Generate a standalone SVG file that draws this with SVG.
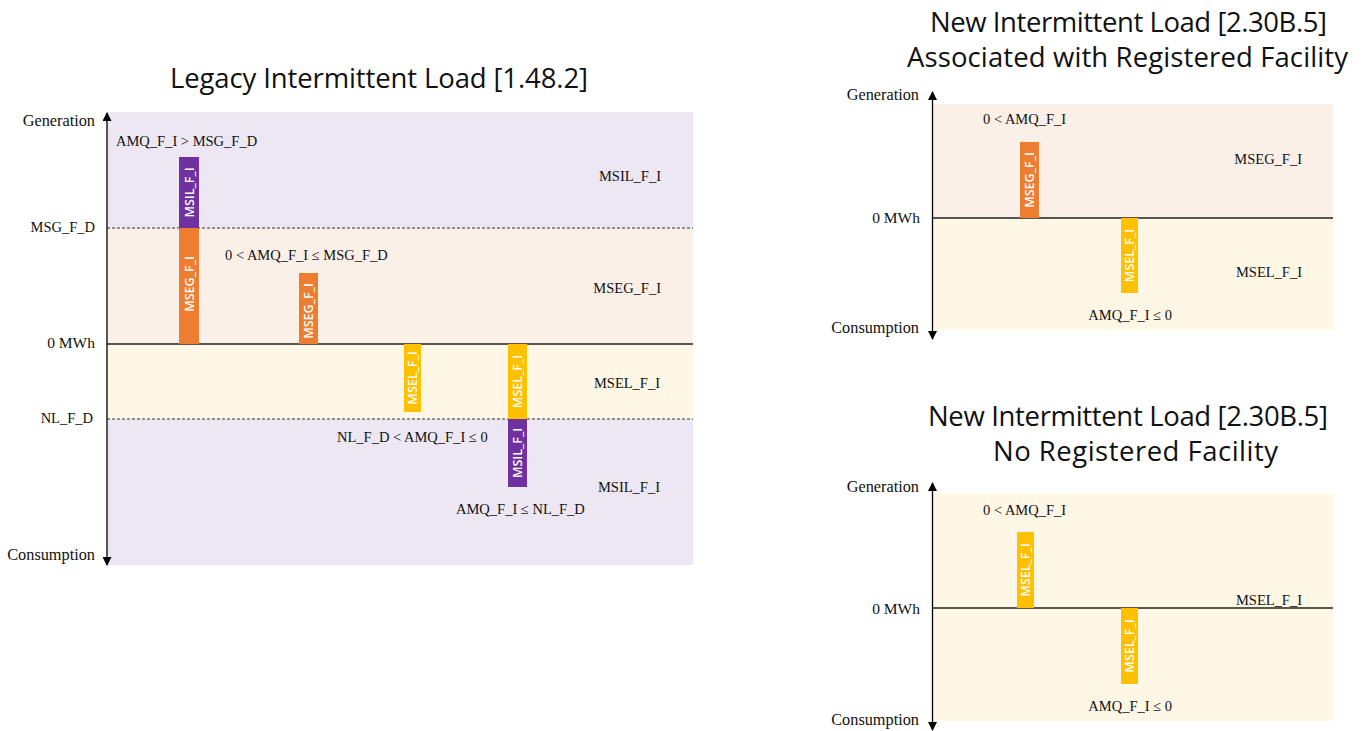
<svg xmlns="http://www.w3.org/2000/svg" width="1363" height="731" viewBox="0 0 1363 731">
<style>
.title{font-family:"Open Sans","Liberation Sans",sans-serif;font-size:27.5px;fill:#111;}
.lbl{font-family:"Liberation Serif","DejaVu Serif",serif;font-size:14.5px;fill:#111;}
.big{font-size:16.3px;}
.end{text-anchor:end;}
.bar{font-family:"Open Sans","Liberation Sans",sans-serif;font-size:12.5px;font-weight:600;fill:#fff;text-anchor:middle;dominant-baseline:central;}
.pur{fill:#EDE7F3;}
.pea{fill:#FBF0E8;}
.yel{fill:#FFF7E6;}
.zero{stroke:#222;stroke-width:1.3;}
.dash{stroke:#333;stroke-width:1;stroke-dasharray:3,2;}
.axis{stroke:#000;stroke-width:1.3;fill:none;marker-start:url(#arrS);marker-end:url(#arrE);}
</style>
<defs>
<marker id="arrE" viewBox="0 0 10 10" refX="9" refY="5" markerWidth="10" markerHeight="9" markerUnits="userSpaceOnUse" orient="auto"><path d="M0,0 L10,5 L0,10 z" fill="#000"/></marker>
<marker id="arrS" viewBox="0 0 10 10" refX="1" refY="5" markerWidth="10" markerHeight="9" markerUnits="userSpaceOnUse" orient="auto"><path d="M10,0 L0,5 L10,10 z" fill="#000"/></marker>
</defs>
<rect width="1363" height="731" fill="#fff"/>

<!-- Legacy panel -->
<g id="legacy-bands">
<rect class="pur" x="107" y="112" width="586" height="116"/>
<rect class="pea" x="107" y="228" width="586" height="116"/>
<rect class="yel" x="107" y="344" width="586" height="75"/>
<rect class="pur" x="107" y="419" width="586" height="146"/>
<line class="dash" x1="107" y1="228" x2="693" y2="228"/>
<line class="zero" x1="107" y1="344" x2="693" y2="344"/>
<line class="dash" x1="107" y1="419" x2="693" y2="419"/>
</g>
<g id="legacy-title"><text class="title" x="170" y="88" textLength="418">Legacy Intermittent Load [1.48.2]</text></g>
<g id="legacy-axis-labels">
<text class="lbl big end" x="95" y="126">Generation</text>
<text class="lbl end" x="95" y="232">MSG_F_D</text>
<text class="lbl end" x="95" y="348" style="font-size:15.5px">0 MWh</text>
<text class="lbl end" x="93" y="423">NL_F_D</text>
<text class="lbl big end" x="95" y="560">Consumption</text>
</g>
<g id="legacy-labels">
<text class="lbl" x="116" y="146">AMQ_F_I &gt; MSG_F_D</text>
<text class="lbl end" x="661" y="181">MSIL_F_I</text>
<text class="lbl" x="225" y="260">0 &lt; AMQ_F_I ≤ MSG_F_D</text>
<text class="lbl end" x="661" y="293">MSEG_F_I</text>
<text class="lbl end" x="660" y="388">MSEL_F_I</text>
<text class="lbl" x="337" y="442">NL_F_D &lt; AMQ_F_I ≤ 0</text>
<text class="lbl end" x="660" y="492">MSIL_F_I</text>
<text class="lbl" x="456" y="514">AMQ_F_I ≤ NL_F_D</text>
</g>
<g id="legacy-bar1">
<rect x="179" y="157" width="20" height="71" fill="#7030A0"/>
<text class="bar" transform="translate(189,192.5) rotate(-90)">MSIL_F_I</text>
<rect x="179" y="228" width="20" height="116" fill="#ED7D31"/>
<text class="bar" transform="translate(189,284) rotate(-90)">MSEG_F_I</text>
</g>
<g id="legacy-bar2">
<rect x="299" y="273" width="19" height="71" fill="#ED7D31"/>
<text class="bar" transform="translate(308.5,311) rotate(-90)">MSEG_F_I</text>
</g>
<g id="legacy-bar3">
<rect x="404" y="344" width="17" height="68" fill="#FFC000"/>
<text class="bar" transform="translate(412.5,378) rotate(-90)">MSEL_F_I</text>
</g>
<g id="legacy-bar4">
<rect x="508" y="344" width="19" height="75" fill="#FFC000"/>
<text class="bar" transform="translate(517.5,381.5) rotate(-90)">MSEL_F_I</text>
<rect x="508" y="419" width="19" height="68" fill="#7030A0"/>
<text class="bar" transform="translate(517.5,453) rotate(-90)">MSIL_F_I</text>
</g>

<!-- New, associated -->
<g id="assoc-bands">
<rect class="pea" x="933" y="104" width="400" height="114"/>
<rect class="yel" x="933" y="218" width="400" height="112"/>
<line class="zero" x1="933" y1="218" x2="1333" y2="218"/>
</g>
<g id="assoc-title">
<text class="title" x="930" y="32" textLength="397">New Intermittent Load [2.30B.5]</text>
<text class="title" x="907" y="67" textLength="441">Associated with Registered Facility</text>
</g>
<g id="assoc-labels">
<text class="lbl big end" x="919" y="100">Generation</text>
<text class="lbl end" x="920" y="223" style="font-size:15.5px">0 MWh</text>
<text class="lbl big end" x="919" y="333">Consumption</text>
<text class="lbl" x="983" y="124">0 &lt; AMQ_F_I</text>
<text class="lbl end" x="1302" y="164">MSEG_F_I</text>
<text class="lbl end" x="1302" y="277">MSEL_F_I</text>
<text class="lbl end" x="1172" y="320">AMQ_F_I ≤ 0</text>
</g>
<g id="assoc-bar1">
<rect x="1020" y="142" width="19" height="76" fill="#ED7D31"/>
<text class="bar" transform="translate(1029.5,180) rotate(-90)">MSEG_F_I</text>
</g>
<g id="assoc-bar2">
<rect x="1121" y="218" width="17" height="75" fill="#FFC000"/>
<text class="bar" transform="translate(1129.5,255.5) rotate(-90)">MSEL_F_I</text>
</g>

<!-- New, no facility -->
<g id="nofac-bands">
<rect class="yel" x="933" y="494" width="400" height="227"/>
<line class="zero" x1="933" y1="608" x2="1333" y2="608"/>
</g>
<g id="nofac-title">
<text class="title" x="928" y="426" textLength="400">New Intermittent Load [2.30B.5]</text>
<text class="title" x="993" y="461" textLength="285">No Registered Facility</text>
</g>
<g id="nofac-labels">
<text class="lbl big end" x="919" y="492">Generation</text>
<text class="lbl end" x="920" y="614" style="font-size:15.5px">0 MWh</text>
<text class="lbl big end" x="919" y="725">Consumption</text>
<text class="lbl" x="983" y="515">0 &lt; AMQ_F_I</text>
<text class="lbl end" x="1302" y="605">MSEL_F_I</text>
<text class="lbl end" x="1172" y="711">AMQ_F_I ≤ 0</text>
</g>
<g id="nofac-bar1">
<rect x="1017" y="532" width="17" height="76" fill="#FFC000"/>
<text class="bar" transform="translate(1025.5,570) rotate(-90)">MSEL_F_I</text>
</g>
<g id="nofac-bar2">
<rect x="1121" y="608" width="17" height="76" fill="#FFC000"/>
<text class="bar" transform="translate(1129.5,646) rotate(-90)">MSEL_F_I</text>
</g>

<g id="connectors">
<line class="axis" x1="107" y1="113" x2="107" y2="565"/>
<line class="axis" x1="932.5" y1="92" x2="932.5" y2="339"/>
<line class="axis" x1="932.5" y1="483" x2="932.5" y2="730"/>
</g>
</svg>
